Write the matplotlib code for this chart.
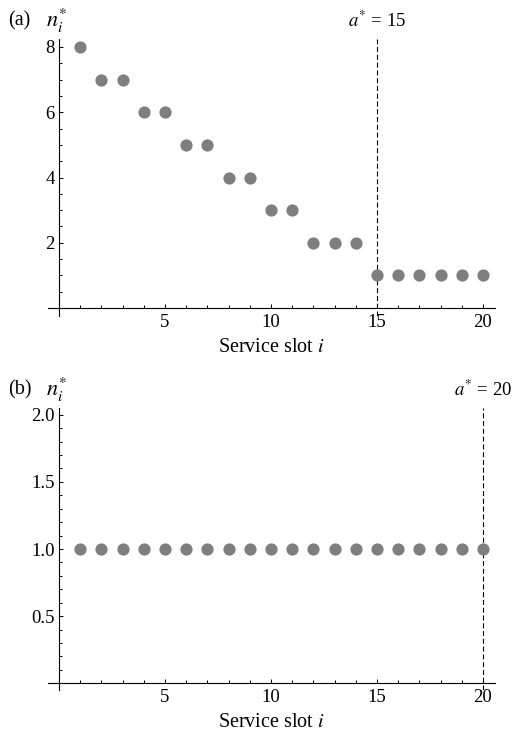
import matplotlib
matplotlib.use("Agg")
import matplotlib.pyplot as plt
from matplotlib.ticker import MultipleLocator

plt.rcParams['font.family'] = ['Liberation Serif', 'DejaVu Serif']
plt.rcParams['mathtext.fontset'] = 'stix'

# data
slots = list(range(1, 21))
n_a = [8, 7, 7, 6, 6, 5, 5, 4, 4, 3, 3, 2, 2, 2, 1, 1, 1, 1, 1, 1]
n_b = [1] * 20
a_star_a = 15
a_star_b = 20

W, H = 519, 732
fig = plt.figure(figsize=(W / 100, H / 100), dpi=100)

def px_box(left, top, right, bottom):
    return [left / W, 1 - bottom / H, (right - left) / W, (bottom - top) / H]

ax_a = fig.add_axes(px_box(48, 39, 495, 316))
ax_b = fig.add_axes(px_box(48, 408, 495, 690))

def style(ax, ylim, ymaj, ymin):
    ax.set_xlim(-0.52, 20.57)
    ax.set_ylim(*ylim)
    ax.spines['left'].set_position(('data', 0))
    ax.spines['bottom'].set_position(('data', 0))
    ax.spines['top'].set_visible(False)
    ax.spines['right'].set_visible(False)
    for s in ('left', 'bottom'):
        ax.spines[s].set_linewidth(0.8)
    ax.xaxis.set_major_locator(MultipleLocator(5))
    ax.xaxis.set_minor_locator(MultipleLocator(1))
    ax.yaxis.set_major_locator(MultipleLocator(ymaj))
    ax.yaxis.set_minor_locator(MultipleLocator(ymin))
    ax.tick_params(which='both', direction='in', width=0.7, labelsize=13.5)
    ax.tick_params(which='major', length=3.2)
    ax.tick_params(which='minor', length=2)
    ax.tick_params(axis='x', pad=4)
    ax.tick_params(axis='y', pad=3)
    ax.patch.set_alpha(0)

style(ax_a, (-0.24, 8.24), 2, 0.5)
style(ax_b, (-0.05, 2.05), 0.5, 0.1)
ax_a.set_yticks([2, 4, 6, 8])
ax_a.set_yticklabels(['2', '4', '6', '8'])
ax_b.set_yticks([0.5, 1.0, 1.5, 2.0])
ax_b.set_yticklabels(['0.5', '1.0', '1.5', '2.0'])
ax_a.set_xticks([5, 10, 15, 20])
ax_b.set_xticks([5, 10, 15, 20])

for ax, n, a_star in ((ax_a, n_a, a_star_a), (ax_b, n_b, a_star_b)):
    ax.axvline(a_star, color='black', lw=0.8, dashes=(4.5, 2.5), zorder=1)
    ax.plot(slots, n, 'o', color='#7f7f7f', markersize=8.8, markeredgewidth=0,
            clip_on=False, zorder=3)
    ax.annotate(r'$a^{*}$ = %d' % a_star, xy=(a_star, 1), xycoords=('data', 'axes fraction'),
                xytext=(0, 6), textcoords='offset points', ha='center', va='bottom',
                fontsize=13.5)
    ax.set_xlabel(r'Service slot $i$', fontsize=14.5, labelpad=5)

fig.text(8 / W, 1 - 21 / H, '(a)', fontsize=14.5, va='center', ha='left')
fig.text(46 / W, 1 - 21 / H, r'$n_i^{*}$', fontsize=16, va='center', ha='left')
fig.text(8 / W, 1 - 390 / H, '(b)', fontsize=14.5, va='center', ha='left')
fig.text(46 / W, 1 - 390 / H, r'$n_i^{*}$', fontsize=16, va='center', ha='left')

fig.savefig('out.png', dpi=100)
